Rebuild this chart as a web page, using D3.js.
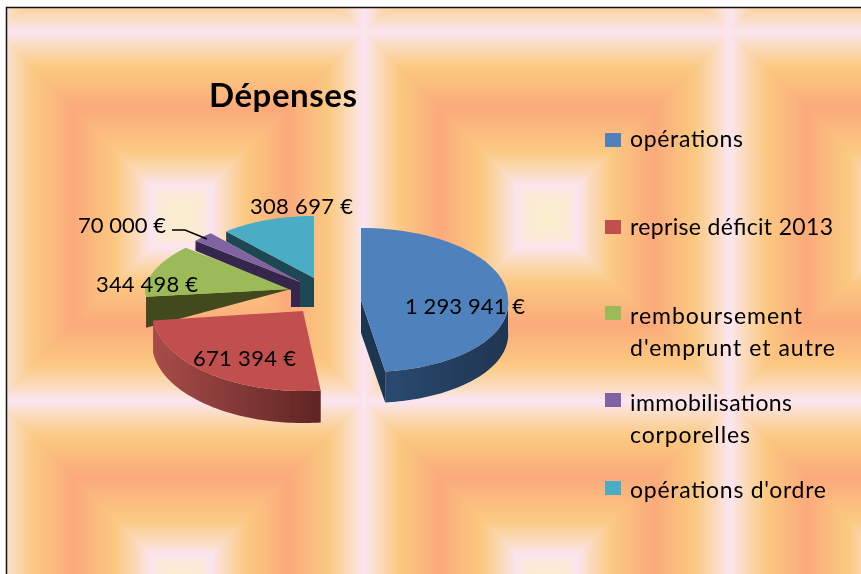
<!DOCTYPE html>
<html>
<head>
<meta charset="utf-8">
<script src="https://cdn.jsdelivr.net/npm/d3@7"></script>
<style>
    html, body { margin: 0; padding: 0; background: #fff; }
    svg { display: block; }
    text { font-family: Lato, "Open Sans", sans-serif; fill: #000; }
</style>
</head>
<body>
<div id="chart"></div>
<script>
// chart values
const titleText = "Dépenses";
const categories = ["opérations", "reprise déficit 2013", "remboursement d'emprunt et autre", "immobilisations corporelles", "opérations d'ordre"];
const legendLines = [["opérations"], ["reprise déficit 2013"], ["remboursement", "d'emprunt et autre"], ["immobilisations", "corporelles"], ["opérations d'ordre"]];
const amounts = [1293941, 671394, 344498, 70000, 308697];

const topColors = ["#4F81BD", "#C0504D", "#9BBB59", "#8064A2", "#4BACC6"];
const cutColors = ["#1F3551", "#632523", "#42491F", "#35264B", "#1E4652"];

const width = 861, height = 574;

// each exploded slice sits a bit differently in the perspective of the 3d pie
const sliceLayout = [
    {cx: 361, cy: 300, rx: 147, ry: 72, depthIn: 33, depthOut: 31, lean: 7, leanBack: 0},
    {cx: 303, cy: 311, rx: 151, ry: 80, depthIn: 32, depthOut: 32, lean: 0, leanBack: 0},
    {cx: 291, cy: 289, rx: 146, ry: 65, depthIn: 30, depthOut: 31, lean: 0, leanBack: 12, kneeBack: 0, kneeDrop: 0},
    {cx: 300, cy: 282, rx: 135, ry: 65, depthIn: 25, depthOut: 10, lean: 0, leanBack: 0, kneeBack: 9, kneeDrop: 8},
    {cx: 314, cy: 278, rx: 133, ry: 62, depthIn: 29, depthOut: 10, lean: 0, leanBack: 0, kneeBack: 14, kneeDrop: 4}
];
const labelLayout = [
    {x: 405, y: 314, w: 120}, {x: 193, y: 366, w: 103}, {x: 96, y: 292, w: 102}, {x: 78, y: 233, w: 88}, {x: 250, y: 214, w: 103}
];
const legendLayout = [
    {box: 133, base: 147, w: [113]}, {box: 220, base: 235, w: [203]}, {box: 306, base: 324, w: [172, 205]}, {box: 393, base: 411, w: [162, 120]}, {box: 481, base: 498, w: [196]}
];

const svg = d3.select("#chart").append("svg")
    .attr("width", width)
    .attr("height", height);

const defs = svg.append("defs");

// tiled picture background, concentric rectangles from tile edge to tile center
const tileW = 366, tileH = 369;
const tileColor = d3.scaleLinear()
    .domain([0, 0.12, 0.17, 0.24, 0.36, 0.59, 0.81, 0.93, 1])
    .range(["#FBEFCB", "#FBEAD8", "#FBE5F1", "#FBDCC0", "#FBC981", "#FBAA7B", "#FBC981", "#FBDCC0", "#FBE5F1"])
    .interpolate(d3.interpolateRgb);

const tile = defs.append("pattern")
    .attr("id", "tile")
    .attr("patternUnits", "userSpaceOnUse")
    .attr("x", -2).attr("y", 32)
    .attr("width", tileW).attr("height", tileH);

tile.selectAll("rect")
    .data(d3.range(1, 0, -0.01))
    .enter().append("rect")
    .attr("x", d => tileW / 2 * (1 - d))
    .attr("y", d => tileH / 2 * (1 - d))
    .attr("width", d => tileW * d)
    .attr("height", d => tileH * d)
    .attr("fill", d => tileColor(d));

svg.append("rect")
    .attr("x", 6).attr("y", 7)
    .attr("width", width - 6).attr("height", height - 7)
    .attr("fill", "url(#tile)");

svg.append("path")
    .attr("d", `M6.5,${height}V7.5H${width}`)
    .attr("fill", "none")
    .attr("stroke", "#111")
    .attr("stroke-width", 1.5);

// wall shading
const wallGrad = (id, x1, x2, c1, c2) => {
    const g = defs.append("linearGradient")
        .attr("id", id)
        .attr("gradientUnits", "userSpaceOnUse")
        .attr("x1", x1).attr("x2", x2)
        .attr("y1", 0).attr("y2", 0);
    g.append("stop").attr("offset", "0%").attr("stop-color", c1);
    g.append("stop").attr("offset", "100%").attr("stop-color", c2);
};
wallGrad("wall0", 385, 508, "#2A4A70", "#1F3551");
wallGrad("wall1", 153, 319, "#A84C49", "#5F2624");

const soft = defs.append("filter").attr("id", "soft");
soft.append("feGaussianBlur").attr("stdDeviation", 0.6);
const softText = defs.append("filter").attr("id", "softText");
softText.append("feGaussianBlur").attr("stdDeviation", 0.35);

// slices
const pie = d3.pie().sort(null).value(d => d);
const arcs = pie(amounts);

const line = d3.line();
const rimPoint = (l, a, drop) => [
    l.cx + l.rx * Math.sin(a) + l.lean * Math.max(0, -Math.cos(a)) + l.leanBack * Math.max(0, Math.cos(a)),
    l.cy - l.ry * Math.cos(a) + drop
];
const rim = (l, a0, a1, drop) => d3.range(0, 61).map(i => rimPoint(l, a0 + (a1 - a0) * i / 60, drop));

const pieGroup = svg.append("g").attr("filter", "url(#soft)");

// back slices first, front slices cover them
[2, 3, 4, 1, 0].forEach(i => {
    const a = arcs[i], l = sliceLayout[i];
    const g = pieGroup.append("g");

    // outer wall, only the part of the rim that faces the viewer
    if (i < 2) {
        const from = Math.max(a.startAngle, Math.PI / 2);
        g.append("path")
            .attr("d", line(rim(l, from, a.endAngle, 0).concat(rim(l, a.endAngle, from, l.depthOut))) + "Z")
            .attr("fill", `url(#wall${i})`);
    }

    // cut face towards the viewer
    if (i === 0) {
        g.append("path")
            .attr("d", line([[l.cx, l.cy], rimPoint(l, a.endAngle, 0), rimPoint(l, a.endAngle, l.depthOut), [l.cx, l.cy + l.depthIn]]) + "Z")
            .attr("fill", cutColors[i]);
    } else if (i > 1) {
        g.append("path")
            .attr("d", line([
                [l.cx, l.cy],
                rimPoint(l, a.startAngle, 0),
                rimPoint(l, a.startAngle, l.depthOut),
                [l.cx - l.kneeBack, l.cy + l.kneeDrop],
                [l.cx - l.kneeBack, l.cy + l.depthIn],
                [l.cx, l.cy + l.depthIn]
            ]) + "Z")
            .attr("fill", cutColors[i]);
    }

    // top face
    g.append("path")
        .attr("d", line([[l.cx, l.cy]].concat(rim(l, a.startAngle, a.endAngle, 0))) + "Z")
        .attr("fill", topColors[i]);
});

// leader line for the small slice
svg.append("path")
    .attr("d", line([[172, 230], [185, 230], [207, 239]]))
    .attr("fill", "none")
    .attr("stroke", "#000")
    .attr("stroke-width", 1.5);

const textGroup = svg.append("g").attr("filter", "url(#softText)");

// value labels
const euro = d3.formatLocale({decimal: ",", thousands: " ", grouping: [3], currency: ["", " €"]}).format("$,.0f");

textGroup.append("g").selectAll("text")
    .data(amounts)
    .enter().append("text")
    .attr("x", (d, i) => labelLayout[i].x)
    .attr("y", (d, i) => labelLayout[i].y)
    .attr("font-size", 22)
    .attr("textLength", (d, i) => labelLayout[i].w)
    .attr("lengthAdjust", "spacing")
    .text(d => euro(d));

// title
textGroup.append("text")
    .attr("x", 209).attr("y", 107)
    .attr("font-size", 33)
    .attr("font-weight", 700)
    .attr("textLength", 148)
    .attr("lengthAdjust", "spacing")
    .text(titleText);

// legend
const legend = textGroup.append("g").selectAll("g")
    .data(categories)
    .enter().append("g");

legend.append("rect")
    .attr("x", 605)
    .attr("y", (d, i) => legendLayout[i].box)
    .attr("width", 16).attr("height", 14)
    .attr("fill", (d, i) => topColors[i]);

legend.selectAll("text")
    .data((d, i) => legendLines[i].map((t, k) => ({t, k, i})))
    .enter().append("text")
    .attr("font-size", 23)
    .attr("x", 630)
    .attr("y", d => legendLayout[d.i].base + d.k * 32)
    .attr("textLength", d => legendLayout[d.i].w[d.k])
    .attr("lengthAdjust", "spacing")
    .text(d => d.t);
</script>
</body>
</html>
